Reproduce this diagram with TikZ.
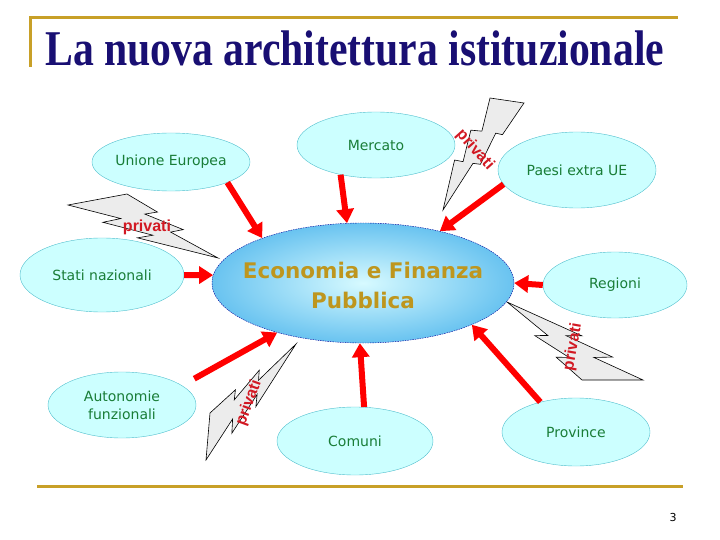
\documentclass[tikz,border=0pt]{standalone}
\usepackage{fontspec}
\setmainfont{DejaVu Sans}
\newfontfamily\titlefont{Liberation Serif}
\newfontfamily\boltfont{Liberation Sans}
\usetikzlibrary{arrows.meta,calc,shapes.geometric,shadings}
\definecolor{gold}{RGB}{200,160,40}
\definecolor{navy}{RGB}{25,15,115}
\definecolor{cyanfill}{RGB}{204,255,255}
\definecolor{cyanline}{RGB}{80,190,205}
\definecolor{labgreen}{RGB}{25,125,55}
\definecolor{econgold}{RGB}{190,150,30}
\definecolor{econin}{RGB}{215,250,255}
\definecolor{econout}{RGB}{105,195,240}
\definecolor{privred}{RGB}{210,25,35}
\definecolor{boltgrey}{RGB}{236,236,236}
% lightning bolt: #1, #2 = corners of the wide end, #3 = tip
\newcommand\bolt[3]{%
  \coordinate (bA) at #1;
  \coordinate (bB) at #2;
  \coordinate (bT) at #3;
  \coordinate (bV) at ($0.78182*(bT)+1.21148*(bA)-1.9933*(bB)$);
  \coordinate (bU) at ($(bT)-(bA)-0.81991*(bV)$);
  \coordinate (bO) at ($(bA)-0.18009*(bV)$);
  \filldraw[boltshape](bA)
    \foreach \pu/\pv in {0.39222/0,0.59537/0.28148,0.51157/0.31468,
      0.76745/0.55588,0.68366/0.59616,1/1,0.46352/0.69051,
      0.56583/0.64755,0.2325/0.44931,0.35194/0.38806}
    {--($(bO)+\pu*(bU)+\pv*(bV)$)}--cycle;}

\begin{document}
\begin{tikzpicture}[x=1pt,y=-1pt,
    ente/.style={ellipse,draw=cyanline,fill=cyanfill,inner sep=0pt,
      text=labgreen,align=center,font=\fontsize{14}{18}\selectfont},
    flow/.style={red,line width=6pt,-{Triangle[length=14pt,width=17pt]}},
    privlabel/.style={text=privred,inner sep=0pt,
      font=\boltfont\bfseries\fontsize{16}{16}\selectfont},
    boltshape/.style={fill=boltgrey,draw=black,line width=0.6pt}]
  \useasboundingbox(0,0)rectangle(720,540);
  % frame lines and title
  \draw[gold,line width=3pt](30,67)--(30,18)--(678,18);
  \draw[gold,line width=3pt](37,486)--(683,486);
  \node[anchor=base west,inner sep=0pt,text=navy](title)at(45,66)
    {\scalebox{1}[1.2]{\titlefont\bfseries\fontsize{41.7}{42}\selectfont
      La nuova architettura istituzionale}};
  \node[font=\fontsize{11}{11}\selectfont](pag)at(673,517){3};
  % bolts
  \bolt{(490,98)}{(524,103)}{(443,210)}
  \bolt{(68,205)}{(127,194)}{(218,258)}
  \bolt{(643,380)}{(582,380)}{(507,302)}
  \bolt{(206,460)}{(210,413)}{(296,344)}
  % bodies
  \node[ente,minimum width=158pt,minimum height=58pt](ue)at(171,162){Unione Europea};
  \node[ente,minimum width=158pt,minimum height=66pt](merc)at(376,145){Mercato};
  \node[ente,minimum width=158pt,minimum height=76pt](paesi)at(577,170){Paesi extra UE};
  \node[ente,minimum width=164pt,minimum height=74pt](stati)at(102,275){Stati nazionali};
  \node[ente,minimum width=144pt,minimum height=66pt](reg)at(615,285){Regioni};
  \node[ente,minimum width=148pt,minimum height=66pt](auto)at(122,405){Autonomie\\funzionali};
  \node[ente,minimum width=156pt,minimum height=68pt](com)at(355,441){Comuni};
  \node[ente,minimum width=148pt,minimum height=68pt](prov)at(576,432){Province};
  \node[ellipse,minimum width=302pt,minimum height=120pt,inner sep=0pt,
    shading=radial,inner color=econin,outer color=econout,
    draw=blue!60!black,dash pattern=on 1.5pt off 1pt,line width=0.4pt](econ)at(363,283){};
  \node[text=econgold,align=center,inner sep=0pt,
    font=\bfseries\fontsize{21.5}{30}\selectfont](econlab)at(363,285)
    {Economia e Finanza\\Pubblica};
  % flows
  \draw[flow](ue.-20)--(econ.156);
  \draw[flow](merc.-140)--(econ.105);
  \draw[flow](paesi.191)--(econ.34);
  \draw[flow](stati.east)--(econ.177);
  \draw[flow](reg.west)--(econ.east);
  \draw[flow,shorten <=14pt](auto.18)--(econ.210);
  \draw[flow](com.75)--(econ.-93);
  \draw[flow](prov.140)--(econ.-21);
  % labels on the bolts
  \node[privlabel,rotate=-48](pv1)at(475,150){privati};
  \node[privlabel](pv2)at(147,227){privati};
  \node[privlabel,rotate=80](pv3)at(573,347){privati};
  \node[privlabel,rotate=70](pv4)at(249,403){privati};
\end{tikzpicture}
\end{document}
